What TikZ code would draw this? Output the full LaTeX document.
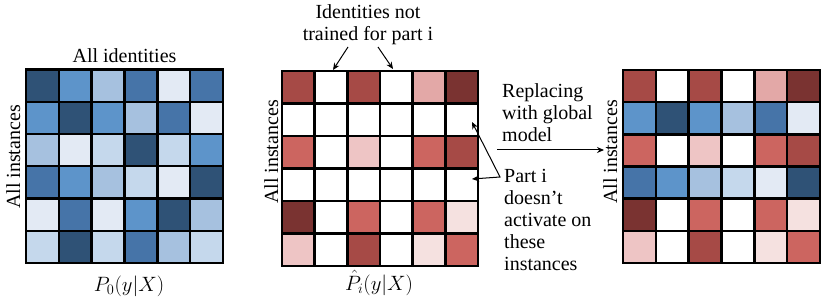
\documentclass[tikz,border=0pt]{standalone}
\usepackage{fontspec}
\setmainfont{Liberation Serif}
\usetikzlibrary{arrows.meta}
\definecolor{B1}{HTML}{2F5276}
\definecolor{B2}{HTML}{4674A8}
\definecolor{B3}{HTML}{5D94CA}
\definecolor{B4}{HTML}{A6C1DF}
\definecolor{B5}{HTML}{C5D8EC}
\definecolor{B6}{HTML}{E3EAF4}
\definecolor{R1}{HTML}{7A3331}
\definecolor{R2}{HTML}{A64A46}
\definecolor{R3}{HTML}{CC6560}
\definecolor{R4}{HTML}{E3A8A7}
\definecolor{R5}{HTML}{EEC5C5}
\definecolor{R6}{HTML}{F5E1E0}
\definecolor{W}{HTML}{FFFFFF}
\tikzset{
  lbl/.style={inner sep=0pt, font=\fontsize{20}{22}\selectfont},
  ptr/.style={line width=1pt, -{Stealth[length=7pt,width=6pt]}},
  dptr/.style={line width=1pt, {Stealth[length=7pt,width=6pt]}-{Stealth[length=7pt,width=6pt]}},
  gridline/.style={line width=2.4pt, line cap=rect},
}
\newcommand\mygrid[5]{%
  \pgfmathsetmacro\mycw{(#3-#1)/6}%
  \pgfmathsetmacro\mych{(#4-#2)/6}%
  \foreach \row [count=\ri from 0] in {#5}{%
    \foreach \cc [count=\ci from 0] in \row{%
      \fill[\cc] ({#1+\ci*\mycw},{#2+\ri*\mych}) rectangle ++(\mycw,\mych);
    }}%
  \foreach \i in {0,...,6}{%
    \draw[gridline] ({#1+\i*\mycw},#2) -- ({#1+\i*\mycw},#4);
    \draw[gridline] (#1,{#2+\i*\mych}) -- (#3,{#2+\i*\mych});
  }%
}
\begin{document}
\begin{tikzpicture}[x=1pt,y=-1pt]
\useasboundingbox[fill=white] (0,0) rectangle (830,299);
% grid 1
\mygrid{26}{69.5}{223}{263}{{B1,B3,B4,B2,B6,B2},{B3,B1,B3,B4,B2,B6},{B4,B6,B5,B1,B5,B3},{B2,B3,B4,B5,B6,B1},{B6,B2,B6,B3,B1,B4},{B5,B1,B5,B2,B4,B5}}
% grid 2
\mygrid{282}{71}{478}{266}{{R2,W,R2,W,R4,R1},{W,W,W,W,W,W},{R3,W,R5,W,R3,R2},{W,W,W,W,W,W},{R1,W,R3,W,R3,R6},{R5,W,R2,W,R6,R3}}
% grid 3
\mygrid{623}{70}{820}{263}{{R2,W,R2,W,R4,R1},{B3,B1,B3,B4,B2,B6},{R3,W,R5,W,R3,R2},{B2,B3,B4,B5,B6,B1},{R1,W,R3,W,R3,R6},{R5,W,R2,W,R6,R3}}

% labels
\node[lbl, anchor=base] (allid) at (124.5,63) {All identities};
\node[lbl, rotate=90, anchor=base] (inst1) at (20,157) {All instances};
\node[lbl, anchor=base] (p0) at (129,291) {$P_0(y|X)$};

\node[lbl, anchor=north, align=center] (idnt) at (368,4.5) {Identities not\\trained for part i};
\node[lbl, rotate=90, anchor=base] (inst2) at (278,152) {All instances};
\node[lbl, anchor=base] (pi) at (379,290) {$\hat{P}_i(y|X)$};

\node[lbl, anchor=north west, align=left] (repl) at (502,83) {Replacing\\with global\\model};
\node[lbl, anchor=north west, align=left] (part) at (504,169.5) {Part i\\doesn’t\\activate on\\these\\instances};
\node[lbl, rotate=90, anchor=base] (inst3) at (617,152) {All instances};

% connectors
\coordinate (a1s) at (348,47);
\coordinate (a1e) at (333,70);
\coordinate (a2s) at (378,47);
\coordinate (a2e) at (393,69);
\draw[ptr] (a1s) -- (a1e);
\draw[ptr] (a2s) -- (a2e);

\coordinate (pt1) at (472,122);
\coordinate (pm) at (500,177);
\coordinate (pt2) at (472,179);
\draw[dptr] (pt1) -- (pm) -- (pt2);

\coordinate (rs) at (497,150);
\coordinate (re) at (604,150);
\draw[ptr] (rs) -- (re);
\end{tikzpicture}
\end{document}
